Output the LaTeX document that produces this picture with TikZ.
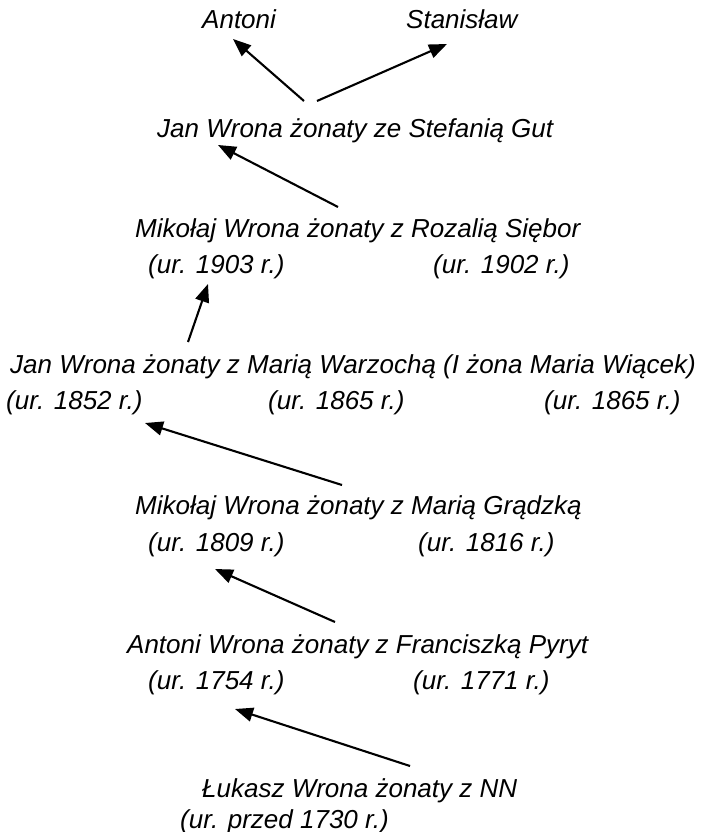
\documentclass[tikz,border=0pt]{standalone}
\usepackage{fontspec}
\setmainfont{Liberation Sans}
\usetikzlibrary{arrows.meta}
\begin{document}
\begin{tikzpicture}[x=1pt,y=-1pt,
  person/.style={anchor=base west,inner sep=0pt,font=\fontsize{26}{31}\selectfont\itshape},
  arr/.style={line width=2.1pt,-{Triangle[length=18pt,width=14pt]}}]
\useasboundingbox (0,0) rectangle (706,832);
% children
\node[person] (antoni) at (202,29) {Antoni};
\node[person] (stan)   at (406,29) {Stanisław};
% generation 1
\node[person] (jan1) at (157,138) {Jan Wrona żonaty ze Stefanią Gut};
% generation 2
\node[person] (mik1)  at (135,237) {Mikołaj Wrona żonaty z Rozalią Siębor};
\node[person] (b1903) at (148,273) {(ur. 1903 r.)};
\node[person] (b1902) at (433,273) {(ur. 1902 r.)};
% generation 3
\node[person] (jan2)   at (10,373) {Jan Wrona żonaty z Marią Warzochą (I żona Maria Wiącek)};
\node[person] (b1852)  at (6,409)   {(ur. 1852 r.)};
\node[person] (b1865a) at (268,409) {(ur. 1865 r.)};
\node[person] (b1865b) at (544,409) {(ur. 1865 r.)};
% generation 4
\node[person] (mik2)  at (135,514) {Mikołaj Wrona żonaty z Marią Grądzką};
\node[person] (b1809) at (148,551) {(ur. 1809 r.)};
\node[person] (b1816) at (418,551) {(ur. 1816 r.)};
% generation 5
\node[person] (ant2)  at (127,653) {Antoni Wrona żonaty z Franciszką Pyryt};
\node[person] (b1754) at (148,689) {(ur. 1754 r.)};
\node[person] (b1771) at (413,689) {(ur. 1771 r.)};
% generation 6
\node[person] (luk)    at (202,797) {Łukasz Wrona żonaty z NN};
\node[person] (bprzed) at (180,828) {(ur. przed 1730 r.)};
% descent arrows
\draw[arr] ([shift={(147,-37)}]jan1.base west) -- ([shift={(31,10)}]antoni.base west);
\draw[arr] ([shift={(160,-37)}]jan1.base west) -- ([shift={(41,15)}]stan.base west);
\draw[arr] ([shift={(203,-30)}]mik1.base west) -- ([shift={(61,7)}]jan1.base west);
\draw[arr] ([shift={(178,-31)}]jan2.base west) -- ([shift={(60,11)}]b1903.base west);
\draw[arr] ([shift={(207,-29)}]mik2.base west) -- ([shift={(139,14)}]b1852.base west);
\draw[arr] ([shift={(208,-31)}]ant2.base west) -- ([shift={(67,18)}]b1809.base west);
\draw[arr] ([shift={(208,-31)}]luk.base west) -- ([shift={(87,20)}]b1754.base west);
\end{tikzpicture}
\end{document}
